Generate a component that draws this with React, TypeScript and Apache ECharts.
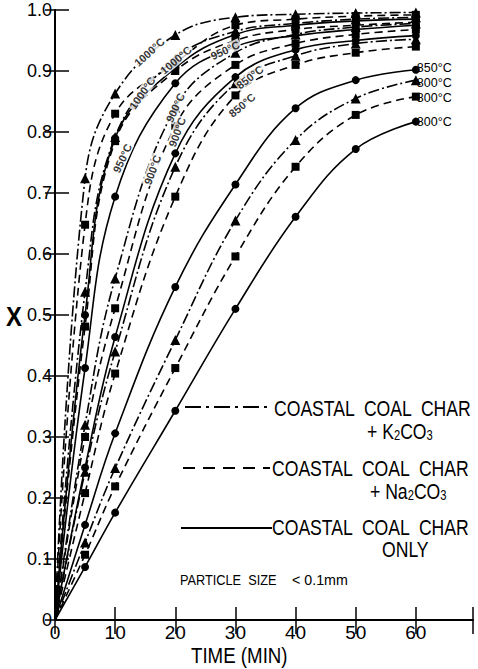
import React, { useEffect, useRef } from 'react';
import * as echarts from 'echarts';

// Reaction time (min)
const times = [0, 5, 10, 20, 30, 40, 50, 60];

// Conversion X — Coastal coal char + K2CO3 (dash-dot, triangles)
const k2co3_1000 = [0, 0.724, 0.863, 0.959, 0.988, 0.993, 0.995, 0.996];
const k2co3_950 = [0, 0.538, 0.792, 0.92, 0.965, 0.978, 0.985, 0.988];
const k2co3_900 = [0, 0.32, 0.56, 0.84, 0.93, 0.96, 0.972, 0.978];
const k2co3_850 = [0, 0.243, 0.44, 0.743, 0.88, 0.925, 0.945, 0.952];
const k2co3_800 = [0, 0.127, 0.249, 0.459, 0.655, 0.787, 0.855, 0.885];

// Coastal coal char + Na2CO3 (dashed, squares)
const na2co3_1000 = [0, 0.648, 0.83, 0.913, 0.975, 0.985, 0.99, 0.992];
const na2co3_950 = [0, 0.481, 0.785, 0.9, 0.95, 0.968, 0.975, 0.98];
const na2co3_900 = [0, 0.3, 0.511, 0.81, 0.91, 0.945, 0.96, 0.968];
const na2co3_850 = [0, 0.208, 0.404, 0.694, 0.86, 0.91, 0.93, 0.94];
const na2co3_800 = [0, 0.107, 0.219, 0.413, 0.596, 0.743, 0.828, 0.858];

// Coastal coal char only (solid, circles)
const only_1000 = [0, 0.5, 0.79, 0.905, 0.96, 0.975, 0.982, 0.985];
const only_950 = [0, 0.413, 0.694, 0.88, 0.94, 0.958, 0.968, 0.975];
const only_900 = [0, 0.25, 0.464, 0.765, 0.89, 0.935, 0.95, 0.958];
const only_850 = [0, 0.156, 0.306, 0.546, 0.714, 0.839, 0.885, 0.902];
const only_800 = [0, 0.087, 0.176, 0.343, 0.51, 0.661, 0.772, 0.817];

// Temperature annotations along the curves: [time, X, rotation, text]
const tempLabels: [number, number, number, string][] = [
  [15.7, 0.931, 42, '1000°C'],
  [20.1, 0.918, 40, '1000°C'],
  [14.5, 0.864, 55, '1000°C'],
  [11.2, 0.757, 65, '950°C'],
  [28.3, 0.934, 25, '950°C'],
  [32.4, 0.89, 38, '850°C'],
  [31.1, 0.844, 40, '850°C'],
  [20.0, 0.84, 65, '900°C'],
  [20.3, 0.8, 70, '900°C'],
  [16.2, 0.738, 70, '900°C'],
];

const FONT = "'Liberation Sans', Arial, sans-serif";

type Kind = 'K' | 'N' | 'S';

function mk(name: string, vals: number[], kind: Kind, endText?: string, endOffset: number[] = [0, 0]) {
  const dash = kind === 'K' ? [11, 3, 2, 3] : kind === 'N' ? [8, 5] : 'solid';
  const symbol = kind === 'K' ? 'triangle' : kind === 'N' ? 'rect' : 'circle';
  const size = kind === 'K' ? 10 : 8;
  return {
    name,
    type: 'line',
    smooth: 0.4,
    symbol,
    symbolSize: size,
    showAllSymbol: true,
    itemStyle: { color: '#000' },
    lineStyle: { color: '#000', width: 1.6, type: dash },
    data: times.map((t, i) =>
      i === 0 ? { value: [t, vals[i]], symbol: 'none' } : [t, vals[i]]
    ),
    endLabel: endText
      ? {
          show: true,
          formatter: endText,
          color: '#000',
          fontSize: 12.5,
          fontFamily: FONT,
          distance: 1,
          offset: endOffset,
        }
      : { show: false },
    z: 3,
  };
}

export default function App() {
  const ref = useRef<HTMLDivElement>(null);
  useEffect(() => {
    const chart = echarts.init(ref.current!, null, { renderer: 'svg' });
    const axisLine = { show: true, lineStyle: { color: '#000', width: 2 } };
    const series: any[] = [
      mk('K 1000', k2co3_1000, 'K'),
      mk('K 950', k2co3_950, 'K'),
      mk('K 900', k2co3_900, 'K'),
      mk('K 850', k2co3_850, 'K'),
      mk('K 800', k2co3_800, 'K', '800°C', [0, 3]),
      mk('Na 1000', na2co3_1000, 'N'),
      mk('Na 950', na2co3_950, 'N'),
      mk('Na 900', na2co3_900, 'N'),
      mk('Na 850', na2co3_850, 'N'),
      mk('Na 800', na2co3_800, 'N', '800°C', [0, 1]),
      mk('Only 1000', only_1000, 'S'),
      mk('Only 950', only_950, 'S'),
      mk('Only 900', only_900, 'S'),
      mk('Only 850', only_850, 'S', '850°C', [0, -2]),
      mk('Only 800', only_800, 'S', '800°C'),
      {
        type: 'scatter',
        symbolSize: 0,
        silent: true,
        z: 5,
        data: tempLabels.map(([t, x, r, s]) => ({
          value: [t, x],
          label: {
            show: true,
            formatter: s,
            rotate: r,
            position: 'inside',
            color: '#000',
            fontSize: 11,
            fontWeight: 'bold',
            fontFamily: FONT,
            backgroundColor: '#fff',
            padding: [0, 1],
          },
        })),
      },
    ];

    const legendText = (x: number, y: number, text: string, rich?: any) => ({
      type: 'text',
      x,
      y,
      scaleX: 0.8,
      style: {
        text,
        fontSize: 22,
        fontFamily: FONT,
        fill: '#000',
        verticalAlign: 'middle',
        ...(rich ? { rich } : {}),
      },
    });
    const subRich = { s: { fontSize: 14, fontFamily: FONT, fill: '#000', padding: [9, 0, 0, 0] } };

    chart.setOption({
      animation: false,
      backgroundColor: '#fff',
      grid: { left: 55, right: 5, top: 10, bottom: 49, containLabel: false },
      xAxis: [
        {
          type: 'value',
          min: 0,
          max: 69.5,
          interval: 10,
          position: 'bottom',
          axisLine,
          axisTick: { show: true, inside: true, length: 13, lineStyle: { color: '#000', width: 1.5 } },
          axisLabel: {
            color: '#000',
            fontSize: 19,
            fontFamily: FONT,
            margin: 3,
            formatter: (v: number) => (v % 10 === 0 ? String(v) : ''),
          },
          splitLine: { show: false },
        },
        {
          type: 'value',
          min: 0,
          max: 69.5,
          interval: 10,
          position: 'top',
          axisLine,
          axisTick: { show: true, inside: true, length: 14, lineStyle: { color: '#000', width: 1.5 } },
          axisLabel: { show: false },
          splitLine: { show: false },
        },
      ],
      yAxis: [
        {
          type: 'value',
          min: 0,
          max: 1,
          interval: 0.1,
          position: 'left',
          axisLine,
          axisTick: { show: true, inside: true, length: 14, lineStyle: { color: '#000', width: 1.5 } },
          axisLabel: {
            color: '#000',
            fontSize: 18,
            fontFamily: FONT,
            margin: 3,
            formatter: (v: number) => (v === 0 ? '0' : v.toFixed(1)),
          },
          splitLine: { show: false },
        },
        {
          type: 'value',
          min: 0,
          max: 1,
          interval: 0.1,
          position: 'right',
          axisLine,
          axisTick: { show: true, inside: true, length: 10, lineStyle: { color: '#000', width: 1.5 } },
          axisLabel: { show: false },
          splitLine: { show: false },
        },
      ],
      series,
      graphic: [
        { type: 'text', x: 6, y: 316, scaleX: 0.85, style: { text: 'X', fontSize: 28, fontWeight: 'bold', fontFamily: FONT, fill: '#000', verticalAlign: 'middle' } },
        { type: 'text', x: 191, y: 655, scaleX: 0.85, style: { text: 'TIME (MIN)', fontSize: 22, fontFamily: FONT, fill: '#000', verticalAlign: 'middle' } },
        // legend samples
        { type: 'line', shape: { x1: 185, y1: 407, x2: 268, y2: 407 }, style: { stroke: '#000', lineWidth: 2, lineDash: [16, 5, 3, 5] } },
        { type: 'line', shape: { x1: 183, y1: 468, x2: 270, y2: 468 }, style: { stroke: '#000', lineWidth: 2, lineDash: [12, 8] } },
        { type: 'line', shape: { x1: 181, y1: 528, x2: 272, y2: 528 }, style: { stroke: '#000', lineWidth: 2 } },
        legendText(274, 408, 'COASTAL  COAL  CHAR'),
        legendText(367, 431, '+ K{s|2}CO{s|3}', subRich),
        legendText(272, 468, 'COASTAL  COAL  CHAR'),
        legendText(370, 491, '+ Na{s|2}CO{s|3}', subRich),
        legendText(272, 527, 'COASTAL  COAL  CHAR'),
        legendText(382, 549, 'ONLY'),
        { type: 'text', x: 180, y: 580, scaleX: 0.85, style: { text: 'PARTICLE  SIZE', fontSize: 15, fontFamily: FONT, fill: '#000', verticalAlign: 'middle' } },
        { type: 'text', x: 292, y: 580, scaleX: 0.95, style: { text: '< 0.1mm', fontSize: 15, fontFamily: FONT, fill: '#000', verticalAlign: 'middle' } },
      ],
    });
    return () => chart.dispose();
  }, []);
  return <div ref={ref} style={{ position: 'absolute', left: 0, top: 0, width: 478, height: 669 }} />;
}
